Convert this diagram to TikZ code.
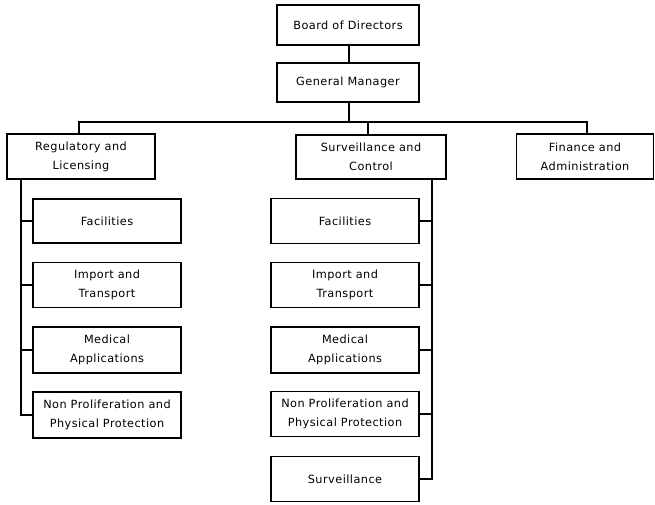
\documentclass[tikz,border=0pt]{standalone}
\usepackage{fontspec}
\setmainfont{DejaVu Sans}[LetterSpace=4]
\begin{document}
\begin{tikzpicture}[x=1pt,y=-1pt,
  box/.style={draw=black,line width=1.4pt,rectangle,inner sep=0pt,align=center,
    font=\fontsize{11.3}{19}\selectfont},
  link/.style={draw=black,line width=1.4pt}]
\useasboundingbox (0,0) rectangle (655,504);
% top
\node[box,minimum width=142pt,minimum height=40pt] (bod) at (348,25) {Board of Directors};
\node[box,minimum width=142pt,minimum height=39pt] (gm) at (348,82.5) {General Manager};
% second level
\node[box,minimum width=148pt,minimum height=45pt] (reg) at (81,156.5) {Regulatory and\\Licensing};
\node[box,minimum width=150pt,minimum height=44pt] (sc) at (371,157) {Surveillance and\\Control};
\node[box,minimum width=137pt,minimum height=45pt] (fa) at (585,156.5) {Finance and\\Administration};
% left column
\node[box,minimum width=148pt,minimum height=44pt] (l1) at (107,221) {Facilities};
\node[box,minimum width=148pt,minimum height=45pt] (l2) at (107,285) {Import and\\Transport};
\node[box,minimum width=148pt,minimum height=46pt] (l3) at (107,350) {Medical\\Applications};
\node[box,minimum width=148pt,minimum height=46pt] (l4) at (107,415) {Non Proliferation and\\Physical Protection};
% right column
\node[box,minimum width=148pt,minimum height=45pt] (r1) at (345,221) {Facilities};
\node[box,minimum width=148pt,minimum height=45pt] (r2) at (345,285) {Import and\\Transport};
\node[box,minimum width=148pt,minimum height=46pt] (r3) at (345,350) {Medical\\Applications};
\node[box,minimum width=148pt,minimum height=45pt] (r4) at (345,414) {Non Proliferation and\\Physical Protection};
\node[box,minimum width=148pt,minimum height=45pt] (r5) at (345,479) {Surveillance};
% coordinates
\coordinate (bus) at (349,122);
\coordinate (regtop) at (79,134);
\coordinate (sctop) at (368,135);
\coordinate (fatop) at (587,134);
\coordinate (ltrunk) at (21,179);
\coordinate (rtrunk) at (432,179);
% connectors
\draw[link] (bod.south -| bus) -- (gm.north -| bus);
\draw[link] (gm.south -| bus) -- (bus);
\draw[link] (regtop) |- (bus) -| (fatop);
\draw[link] (sctop) -- (sctop |- bus);
\draw[link] (ltrunk) |- (l4.west);
\draw[link] (l1.west) -- (l1.west -| ltrunk);
\draw[link] (l2.west) -- (l2.west -| ltrunk);
\draw[link] (l3.west) -- (l3.west -| ltrunk);
\draw[link] (rtrunk) |- (r5.east);
\draw[link] (r1.east) -- (r1.east -| rtrunk);
\draw[link] (r2.east) -- (r2.east -| rtrunk);
\draw[link] (r3.east) -- (r3.east -| rtrunk);
\draw[link] (r4.east) -- (r4.east -| rtrunk);
\end{tikzpicture}
\end{document}
